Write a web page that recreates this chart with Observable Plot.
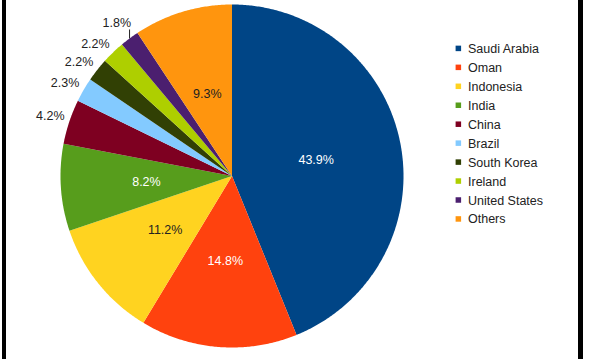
<!DOCTYPE html>
<html><head><meta charset="utf-8">
<script src="https://cdn.jsdelivr.net/npm/d3@7"></script>
<script src="https://cdn.jsdelivr.net/npm/@observablehq/plot@0.6"></script>
<style>
body{margin:0;background:#fff;}
#wrap{position:relative;width:594px;height:359px;overflow:hidden;}
#wrap svg{display:block;}
.bar{position:absolute;top:0;height:359px;background:#000;}
</style>
</head><body>
<div id="wrap"><div id="chart"></div><div class="bar" style="left:1.5px;width:4.5px"></div><div class="bar" style="left:578.3px;width:5px"></div></div>
<script>
const countries = ["Saudi Arabia","Oman","Indonesia","India","China","Brazil","South Korea","Ireland","United States","Others"];
const shares = [43.9,14.8,11.2,8.2,4.2,2.3,2.2,2.2,1.8,9.3];
const shareLabels = ["43.9%","14.8%","11.2%","8.2%","4.2%","2.3%","2.2%","2.2%","1.8%","9.3%"];
const palette = ["#004586","#ff420e","#ffd320","#579d1c","#7e0021","#83caff","#314004","#aecf00","#4b1f6f","#ff950e"];

const W = 594, H = 359, cx = 231.5, cy = 175.5, R = 171.5;
const total = d3.sum(shares);
const pt = (a, r) => ({x: cx + r * Math.sin(a), y: cy - r * Math.cos(a)});

// slice polygons
const poly = [];
const inside = [], outside = [], leaders = [];
let acc = 0;
countries.forEach((name, i) => {
  const a0 = acc / total * 2 * Math.PI;
  acc += shares[i];
  const a1 = acc / total * 2 * Math.PI;
  const n = Math.max(2, Math.ceil((a1 - a0) / (Math.PI / 360)));
  poly.push({name, ...pt(0, 0)});
  for (let k = 0; k <= n; k++) poly.push({name, ...pt(a0 + (a1 - a0) * k / n, R)});
  const am = (a0 + a1) / 2;
  if (shares[i] >= 5) {
    const c = d3.lab(palette[i]).l < 65 ? "#ffffff" : "#222222";
    inside.push({label: shareLabels[i], color: c, ...pt(am, R * 0.5)});
  } else if (shares[i] < 2) {
    const e = pt(am, R);
    leaders.push({x1: e.x, y1: e.y, x2: e.x, y2: e.y - 9});
    outside.push({label: shareLabels[i], x: e.x + 1.5, y: e.y - 15.5});
  } else {
    const p = pt(am, R + 5);
    outside.push({label: shareLabels[i], x: p.x, y: p.y - 4.5});
  }
});

const legend = countries.map((name, i) => ({name, y: 48.4 + i * 18.95}));

const chart = Plot.plot({
  width: W, height: H, margin: 0,
  x: {domain: [0, W], range: [0, W], axis: null},
  y: {domain: [0, H], range: [0, H], axis: null},
  color: {domain: countries, range: palette},
  style: {fontFamily: "'Liberation Sans', Arial, sans-serif", background: "#fff"},
  marks: [
    Plot.line(poly, {x: "x", y: "y", z: "name", fill: "name", stroke: null, curve: "linear"}),
    Plot.text(inside, {x: "x", y: "y", text: "label", fill: "color", fontSize: 12.5, textAnchor: "middle", lineAnchor: "middle"}),
    Plot.link(leaders, {x1: "x1", y1: "y1", x2: "x2", y2: "y2", stroke: "#222", strokeWidth: 1}),
    Plot.text(outside, {x: "x", y: "y", text: "label", fill: "#222", fontSize: 12.5, textAnchor: "end", lineAnchor: "middle"}),
    Plot.rect(legend, {x1: () => 455.6, x2: () => 461.1, y1: d => d.y - 2.75, y2: d => d.y + 2.75, fill: "name"}),
    Plot.text(legend, {x: () => 467.5, y: "y", text: "name", fill: "#222", fontSize: 12.5, textAnchor: "start", lineAnchor: "middle"})
  ]
});
document.getElementById("chart").append(chart);
</script>
</body></html>
